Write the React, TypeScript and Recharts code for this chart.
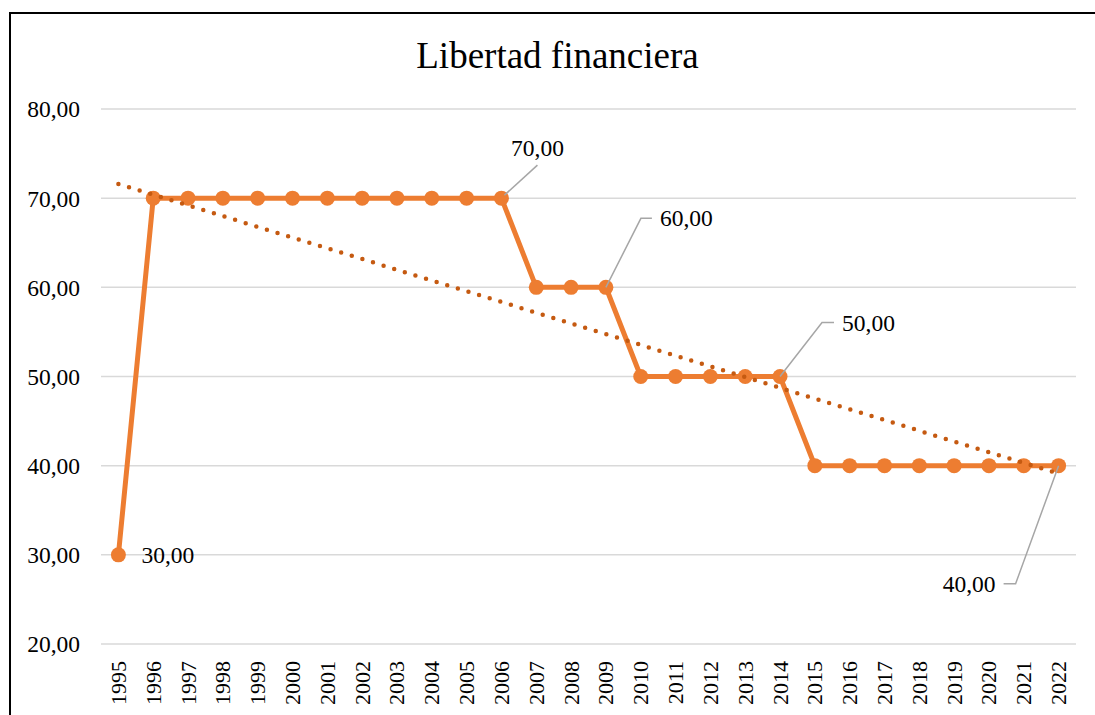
import { LineChart, Line, XAxis, YAxis, CartesianGrid, ReferenceLine, LabelList } from 'recharts';

const years = [
  '1995', '1996', '1997', '1998', '1999', '2000', '2001', '2002', '2003', '2004',
  '2005', '2006', '2007', '2008', '2009', '2010', '2011', '2012', '2013', '2014',
  '2015', '2016', '2017', '2018', '2019', '2020', '2021', '2022',
];
const values = [
  30, 70, 70, 70, 70, 70, 70, 70, 70, 70,
  70, 70, 60, 60, 60, 50, 50, 50, 50, 50,
  40, 40, 40, 40, 40, 40, 40, 40,
];
const yTicks = [20, 30, 40, 50, 60, 70, 80];
// linear trend read at first and last year
const trendStart = 71.6;
const trendEnd = 39.1;
const labelledYears = ['1995', '2006', '2009', '2014', '2022'];

const data = years.map((year, i) => ({ year, value: values[i] }));

const FONT = '"Liberation Serif", "Times New Roman", serif';
const ORANGE = '#ED7D31';
const TREND = '#C55A11';
const LEADER = '#a6a6a6';

const fmt = (v: number) => v.toFixed(2).replace('.', ',');

function YearTick(props: any) {
  const { x, y, payload } = props;
  return (
    <g transform={`translate(${x},${y + 9}) rotate(-90)`}>
      <text x={0} y={0} textAnchor="end" dominantBaseline="central" fontSize={22} fill="#000" fontFamily={FONT}>
        {payload.value}
      </text>
    </g>
  );
}

function DataLabel(props: any) {
  const { x, y, value, index } = props;
  const year = years[index];
  if (!labelledYears.includes(year)) return null;
  const txt = { fontSize: 23.5, fill: '#000', fontFamily: FONT, dominantBaseline: 'central' as const };
  const line = { stroke: LEADER, strokeWidth: 1.5, fill: 'none' };
  if (year === '1995') {
    return <text x={x + 23} y={y} textAnchor="start" {...txt}>{fmt(value)}</text>;
  }
  if (year === '2006') {
    return (
      <g>
        <polyline points={`${x + 3},${y - 3} ${x + 36},${y - 33}`} {...line} />
        <text x={x + 36} y={y - 50} textAnchor="middle" {...txt}>{fmt(value)}</text>
      </g>
    );
  }
  if (year === '2009') {
    return (
      <g>
        <polyline points={`${x},${y} ${x + 35},${y - 69} ${x + 46},${y - 69}`} {...line} />
        <text x={x + 54} y={y - 69} textAnchor="start" {...txt}>{fmt(value)}</text>
      </g>
    );
  }
  if (year === '2014') {
    return (
      <g>
        <polyline points={`${x},${y} ${x + 42},${y - 54} ${x + 54},${y - 54}`} {...line} />
        <text x={x + 62} y={y - 54} textAnchor="start" {...txt}>{fmt(value)}</text>
      </g>
    );
  }
  return (
    <g>
      <polyline points={`${x},${y} ${x - 43},${y + 118} ${x - 55},${y + 118}`} {...line} />
      <text x={x - 63} y={y + 118} textAnchor="end" {...txt}>{fmt(value)}</text>
    </g>
  );
}

function DottedTrend(props: any) {
  const { x1, y1, x2, y2 } = props;
  return (
    <line
      x1={x1}
      y1={y1}
      x2={x2}
      y2={y2}
      stroke={TREND}
      strokeWidth={4.5}
      strokeDasharray="0 11.1"
      strokeLinecap="round"
    />
  );
}

export default function App() {
  return (
    <div style={{ position: 'relative', width: 1095, height: 715, background: '#fff', overflow: 'hidden' }}>
      <style>{`body{margin:0;overflow:hidden;background:#fff}`}</style>
      <div
        style={{
          position: 'absolute',
          left: 9,
          top: 12,
          width: 1200,
          height: 800,
          borderLeft: '2px solid #000',
          borderTop: '2px solid #000',
        }}
      />
      <div
        style={{
          position: 'absolute',
          left: 0,
          width: 1115,
          top: 34,
          textAlign: 'center',
          fontFamily: FONT,
          fontSize: 37,
          color: '#000',
          lineHeight: '44px',
        }}
      >
        Libertad financiera
      </div>
      <div style={{ position: 'absolute', left: 0, top: 0 }}>
        <LineChart width={1095} height={715} data={data} margin={{ top: 109, right: 19, bottom: 0, left: 0 }}>
          <CartesianGrid horizontal vertical={false} stroke="#d9d9d9" strokeWidth={1.5} />
          <XAxis
            dataKey="year"
            interval={0}
            height={71}
            padding={{ left: 17.4, right: 17.4 }}
            axisLine={false}
            tickLine={false}
            tick={<YearTick />}
          />
          <YAxis
            domain={[20, 80]}
            ticks={yTicks}
            width={101}
            axisLine={false}
            tickLine={false}
            tickSize={0}
            tickMargin={21}
            tickFormatter={fmt}
            tick={{ fontSize: 23.5, fill: '#000', fontFamily: FONT }}
          />
          <Line
            type="linear"
            dataKey="value"
            stroke={ORANGE}
            strokeWidth={5}
            dot={{ r: 7.5, fill: ORANGE, stroke: ORANGE, strokeWidth: 0 }}
            activeDot={false}
            isAnimationActive={false}
          >
            <LabelList dataKey="value" content={<DataLabel />} />
          </Line>
          <ReferenceLine
            segment={[
              { x: years[0], y: trendStart },
              { x: years[years.length - 1], y: trendEnd },
            ]}
            ifOverflow="visible"
            zIndex={1000}
            shape={(p: any) => <DottedTrend {...p} />}
          />
        </LineChart>
      </div>
    </div>
  );
}
